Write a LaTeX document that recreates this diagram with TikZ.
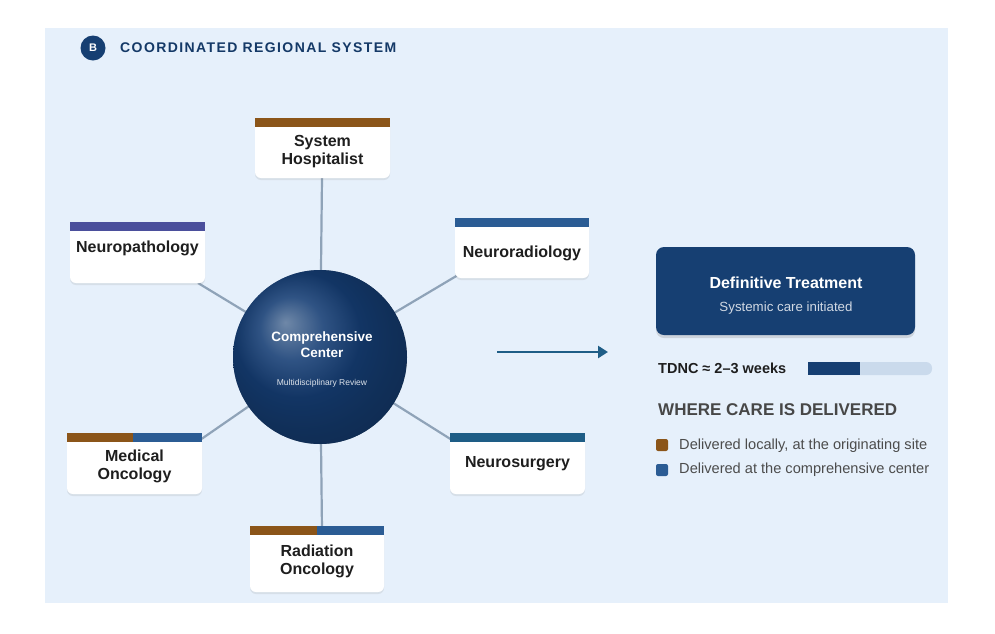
\documentclass[tikz,border=0pt]{standalone}
\usepackage{fontspec}
\setmainfont{Liberation Sans}
\newfontfamily\spaced[LetterSpace=10]{Liberation Sans}
\usetikzlibrary{arrows.meta,shadows}
\definecolor{bgp}{HTML}{E6F0FB}
\definecolor{navy}{HTML}{163F72}
\definecolor{brn}{HTML}{8B5519}
\definecolor{purp}{HTML}{4B4F9C}
\definecolor{blu}{HTML}{2B5C94}
\definecolor{teal}{HTML}{1E5D86}
\definecolor{linec}{HTML}{8FA3B8}
\definecolor{txt}{HTML}{1E1E1E}
\begin{document}
\begin{tikzpicture}[x=1pt,y=-1pt,
  card/.style={fill=white,rounded corners=6pt,drop shadow={opacity=0.15,shadow xshift=0pt,shadow yshift=-2pt}},
  lbl/.style={font=\bfseries\fontsize{16}{18}\selectfont,text=txt,align=center},
  spoke/.style={draw=linec,line width=2.2pt}]
\useasboundingbox (0,0) rectangle (995,633);
\fill[white] (0,0) rectangle (995,633);
\fill[bgp] (45,28) rectangle (948,603);
\node[circle,fill=navy,minimum size=25pt,inner sep=0,text=white,font=\bfseries\fontsize{11}{12}\selectfont] (b) at (93,48) {B};
\node[anchor=west,text=navy!90!black,font=\spaced\bfseries\fontsize{14}{16}\selectfont,inner sep=0] (title) at (120,48) {COORDINATED REGIONAL SYSTEM};
% spokes
\coordinate (cc) at (320,357);
\coordinate (p1) at (322,178);
\coordinate (p2) at (198,283);
\coordinate (p3) at (458,275);
\coordinate (p4) at (200,440);
\coordinate (p5) at (452,440);
\coordinate (p6) at (322,530);
\foreach \p in {p1,p2,p3,p4,p5,p6} \draw[spoke] (cc) -- (\p);
% cards
\newcommand{\mycard}[8]{% name x1 y1 x2 y2 color text ypos
  \fill[card] (#2,#3) rectangle (#4,#5);
  \fill[#6] (#2,#3) rectangle (#4,#3+9);
  \node[lbl] (#1) at ({(#2+#4)/2},#3+#8) {#7};}
\mycard{sh}{255}{118}{390}{178}{brn}{System\\Hospitalist}{34}
\mycard{np}{70}{222}{205}{283}{purp}{Neuropathology}{26}
\mycard{nr}{455}{218}{589}{278}{blu}{Neuroradiology}{35}
\mycard{mo}{67}{433}{202}{494}{blu}{Medical\\Oncology}{33}
\fill[brn] (67,433) rectangle (133,442);
\mycard{ns}{450}{433}{585}{494}{teal}{Neurosurgery}{31}
\mycard{ro}{250}{526}{384}{592}{blu}{Radiation\\Oncology}{35}
\fill[brn] (250,526) rectangle (317,535);
% center
\begin{scope}
\clip (cc) circle (87);
\shade[ball color=navy!95!blue] (cc) circle (87);
\fill[navy,opacity=0.55] (cc) circle (87);
\end{scope}
\node[text=white,font=\bfseries\fontsize{13.5}{16}\selectfont,align=center] (cen) at (322,345) {Comprehensive\\Center};
\node[text=white!85!navy,font=\fontsize{8.5}{9}\selectfont] (mr) at (322,383) {Multidisciplinary Review};
% arrow
\coordinate (a1) at (497,352);
\coordinate (a2) at (608,352);
\draw[teal,line width=2.8pt,-{Triangle[length=10pt,width=12pt]}] (a1) -- (a2);
% definitive
\fill[navy,rounded corners=8pt,drop shadow={opacity=0.25,shadow xshift=0pt,shadow yshift=-3pt}] (656,247) rectangle (915,335);
\node[text=white,font=\bfseries\fontsize{16}{18}\selectfont] (dt) at (786,283) {Definitive Treatment};
\node[text=white!80!navy,font=\fontsize{13.3}{15}\selectfont] (sc) at (786,308) {Systemic care initiated};
\node[anchor=west,text=txt,font=\bfseries\fontsize{14.5}{16}\selectfont,inner sep=0] (td) at (658,368) {TDNC ≈ 2–3 weeks};
\fill[blu!15!bgp,rounded corners=6pt] (808,362) rectangle (932,375);
\fill[navy] (808,362) rectangle (860,375);
\node[anchor=west,text=black!72,font=\bfseries\fontsize{17}{19}\selectfont,inner sep=0] (wc) at (658,410) {WHERE CARE IS DELIVERED};
\fill[brn,rounded corners=2pt] (656,439) rectangle (668,451);
\fill[blu,rounded corners=2pt] (656,464) rectangle (668,476);
\node[anchor=west,text=black!70,font=\fontsize{14.6}{16}\selectfont,inner sep=0] (l1) at (679,446) {Delivered locally, at the originating site};
\node[anchor=west,text=black!70,font=\fontsize{14.6}{16}\selectfont,inner sep=0] (l2) at (679,470) {Delivered at the comprehensive center};
\end{tikzpicture}
\end{document}
